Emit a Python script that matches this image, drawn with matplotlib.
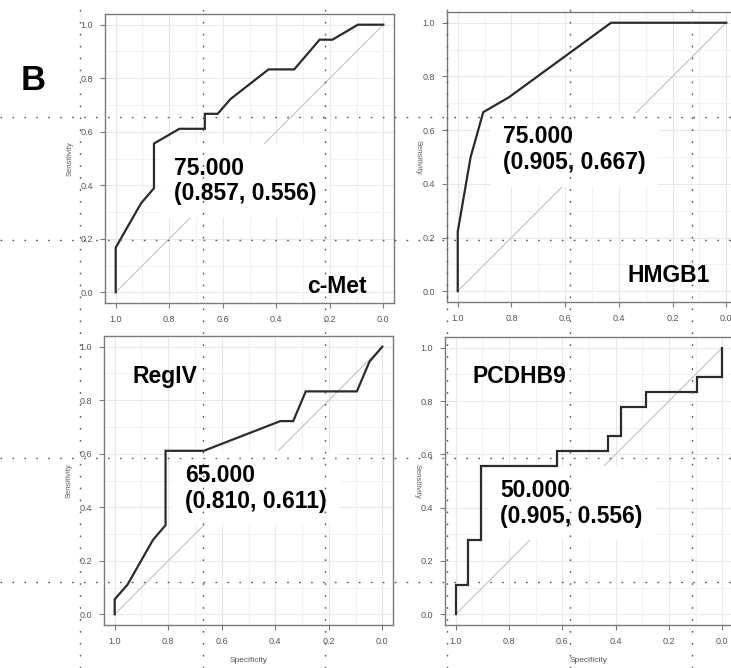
import matplotlib
matplotlib.use("Agg")
import matplotlib.pyplot as plt
from matplotlib.lines import Line2D

plt.rcParams['font.family'] = ['Liberation Sans', 'DejaVu Sans']

# ---------------- data ----------------
names = ["c-Met", "HMGB1", "RegIV", "PCDHB9"]

cmet_spec = [1.0, 1.0, 0.905, 0.857, 0.857, 0.762, 0.667, 0.667, 0.619, 0.571, 0.429, 0.333, 0.238, 0.190, 0.095, 0.0]
cmet_sens = [0.0, 0.167, 0.333, 0.389, 0.556, 0.611, 0.611, 0.667, 0.667, 0.722, 0.833, 0.833, 0.944, 0.944, 1.0, 1.0]

hmgb1_spec = [1.0, 1.0, 0.952, 0.905, 0.810, 0.429, 0.0]
hmgb1_sens = [0.0, 0.222, 0.5, 0.667, 0.722, 1.0, 1.0]

regiv_spec = [1.0, 1.0, 0.952, 0.857, 0.810, 0.810, 0.667, 0.381, 0.333, 0.286, 0.095, 0.048, 0.0]
regiv_sens = [0.0, 0.056, 0.111, 0.278, 0.333, 0.611, 0.611, 0.722, 0.722, 0.833, 0.833, 0.944, 1.0]

pcdhb9_spec = [1.0, 1.0, 0.952, 0.952, 0.905, 0.905, 0.619, 0.619, 0.429, 0.429, 0.381, 0.381,
               0.286, 0.286, 0.095, 0.095, 0.0, 0.0]
pcdhb9_sens = [0.0, 0.111, 0.111, 0.278, 0.278, 0.556, 0.556, 0.611, 0.611, 0.667, 0.667, 0.778,
               0.778, 0.833, 0.833, 0.889, 0.889, 1.0]

thresholds = ["75.000", "75.000", "65.000", "50.000"]
best_spec = [0.857, 0.905, 0.810, 0.905]
best_sens = [0.556, 0.667, 0.611, 0.556]

tick_values = [0.0, 0.2, 0.4, 0.6, 0.8, 1.0]
tick_labels = ["0.0", "0.2", "0.4", "0.6", "0.8", "1.0"]

curves_spec = [cmet_spec, hmgb1_spec, regiv_spec, pcdhb9_spec]
curves_sens = [cmet_sens, hmgb1_sens, regiv_sens, pcdhb9_sens]

# ---------------- layout ----------------
W, H = 731, 668
fig = plt.figure(figsize=(W / 100, H / 100), dpi=100)
fig.patch.set_facecolor("white")

# (left px, top px, size px)
boxes = [(105, 14, 289), (447, 12, 290), (104, 336, 289), (445, 337, 288)]
# panel name placement: (x, y, ha) in axes fraction
name_pos = [(0.907, 0.035, "right"), (0.907, 0.069, "right"),
            (0.097, 0.837, "left"), (0.094, 0.840, "left")]
show_xlabel = [False, False, True, True]

axis_gray = "#7a7a7a"
label_gray = "#555555"

for i in range(4):
    lp, tp, sz = boxes[i]
    ax = fig.add_axes([lp / W, 1 - (tp + sz) / H, sz / W, sz / H])
    ax.set_xlim(1.04, -0.04)
    ax.set_ylim(-0.04, 1.04)
    ax.set_facecolor("white")

    # faint grid every 0.1
    for g in [k / 10 for k in range(11)]:
        c = "#e8e8e8" if round(g * 10) % 2 == 0 else "#f2f2f2"
        ax.axvline(g, color=c, lw=0.8, zorder=0)
        ax.axhline(g, color=c, lw=0.8, zorder=0)

    # diagonal reference
    ax.plot([1, 0], [0, 1], color="#c8c8c8", lw=0.9, zorder=1)
    # ROC curve
    ax.plot(curves_spec[i], curves_sens[i], color="#2b2b2b", lw=1.6,
            solid_joinstyle="miter", zorder=3)

    # threshold annotation with white box
    ax.text(best_spec[i] - 0.073, best_sens[i] - 0.140,
            f"{thresholds[i]}\n({best_spec[i]:.3f}, {best_sens[i]:.3f})",
            ha="left", va="center", fontsize=16.5, fontweight="bold",
            color="black", linespacing=1.15, zorder=2,
            bbox=dict(boxstyle="square,pad=0.55", facecolor="white", edgecolor="none"))

    # panel name
    nx, ny, nha = name_pos[i]
    ax.text(nx, ny, names[i], transform=ax.transAxes, ha=nha, va="baseline",
            fontsize=16.5, fontweight="bold", color="black", zorder=4)

    ax.set_xticks(tick_values)
    ax.set_xticklabels(tick_labels)
    ax.set_yticks(tick_values)
    ax.set_yticklabels(tick_labels)
    ax.tick_params(axis="both", length=3.5, width=0.8, color=axis_gray,
                   labelsize=6.5, labelcolor=label_gray, pad=5)
    for s in ax.spines.values():
        s.set_color(axis_gray)
        s.set_linewidth(1.0)

    ax.set_ylabel("Sensitivity", fontsize=5.5, color="#6a5a52",
                  rotation=90 if i in (0, 2) else 270)
    ax.yaxis.set_label_coords(-0.11, 0.5)
    if show_xlabel[i]:
        ax.set_xlabel("Specificity", fontsize=6, color=label_gray)
        ax.xaxis.set_label_coords(0.5, -0.11)

# panel letter
fig.text(33 / W, 1 - 80 / H, "B", fontsize=25, fontweight="bold",
         ha="center", va="center", color="black")

# dotted guide lines from the composite layout
guide_style = dict(color="#555555", lw=1.0, linestyle=(0, (1.2, 7.4)),
                   transform=fig.transFigure, zorder=10)
for gy in [117, 240, 458, 582]:
    fig.add_artist(Line2D([0, 1], [1 - gy / H, 1 - gy / H], **guide_style))
for gx in [80, 203, 325, 447, 570, 692]:
    fig.add_artist(Line2D([gx / W, gx / W], [0, 1], **guide_style))

fig.savefig("out.png", dpi=100, facecolor="white")
